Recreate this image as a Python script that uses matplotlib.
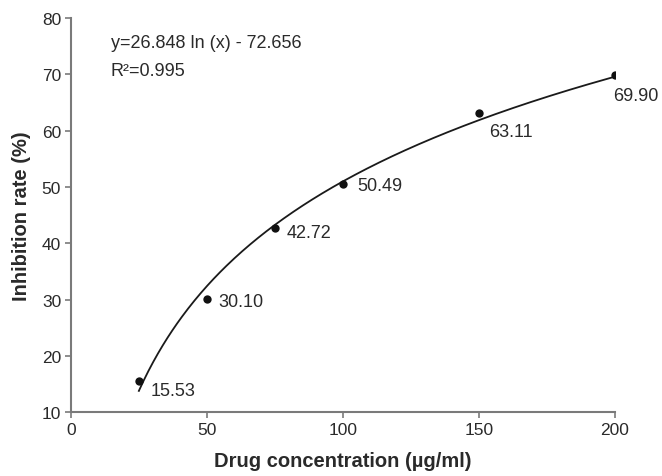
import numpy as np
import matplotlib
matplotlib.use("Agg")
import matplotlib.pyplot as plt

# data
conc = [25, 50, 75, 100, 150, 200]
inhibition = [15.53, 30.10, 42.72, 50.49, 63.11, 69.90]
labels = ["15.53", "30.10", "42.72", "50.49", "63.11", "69.90"]
# label offsets in points (dx, dy)
offsets = [(8.5, -7), (8, -1.5), (8.5, -3.6), (10.5, -1), (7, -13), (-1, -15)]

fit_a, fit_b = 26.848, -72.656

plt.rcParams["font.family"] = ["Liberation Sans", "DejaVu Sans"]
axis_col = "#7a7a7a"
text_col = "#2a2a2a"

fig = plt.figure(figsize=(6.62, 4.77), dpi=100)
ax = fig.add_axes([0.107, 0.134, 0.822, 0.826])

xs = np.linspace(25, 200, 300)
ax.plot(xs, fit_a * np.log(xs) + fit_b, color="#1a1a1a", lw=1.3)
ax.scatter(conc, inhibition, s=36, color="#111111", zorder=3, linewidths=0)
for x, y, t, (dx, dy) in zip(conc, inhibition, labels, offsets):
    ax.annotate(t, (x, y), xytext=(dx, dy), textcoords="offset points",
                fontsize=13, color=text_col, va="center", ha="left")

ax.text(0.0735, 0.937, "y=26.848 ln (x) - 72.656", transform=ax.transAxes,
        fontsize=13, color=text_col, va="center")
ax.text(0.0735, 0.866, "R²=0.995", transform=ax.transAxes,
        fontsize=13, color=text_col, va="center")

ax.set_xlim(0, 200)
ax.set_ylim(10, 80)
ax.set_xticks([0, 50, 100, 150, 200])
ax.set_yticks(range(10, 81, 10))
for s in ["top", "right"]:
    ax.spines[s].set_visible(False)
for s in ["left", "bottom"]:
    ax.spines[s].set_color(axis_col)
    ax.spines[s].set_linewidth(1.5)
ax.tick_params(colors=axis_col, labelcolor=text_col, labelsize=12.5,
               length=4, width=1.2, direction="out", pad=3)

ax.set_xlabel("Drug concentration (µg/ml)", fontsize=14.5, fontweight="bold",
              color=text_col, labelpad=10)
ax.set_ylabel("Inhibition rate (%)", fontsize=14.5, fontweight="bold",
              color=text_col, labelpad=8)

fig.savefig("out.png", dpi=100)
